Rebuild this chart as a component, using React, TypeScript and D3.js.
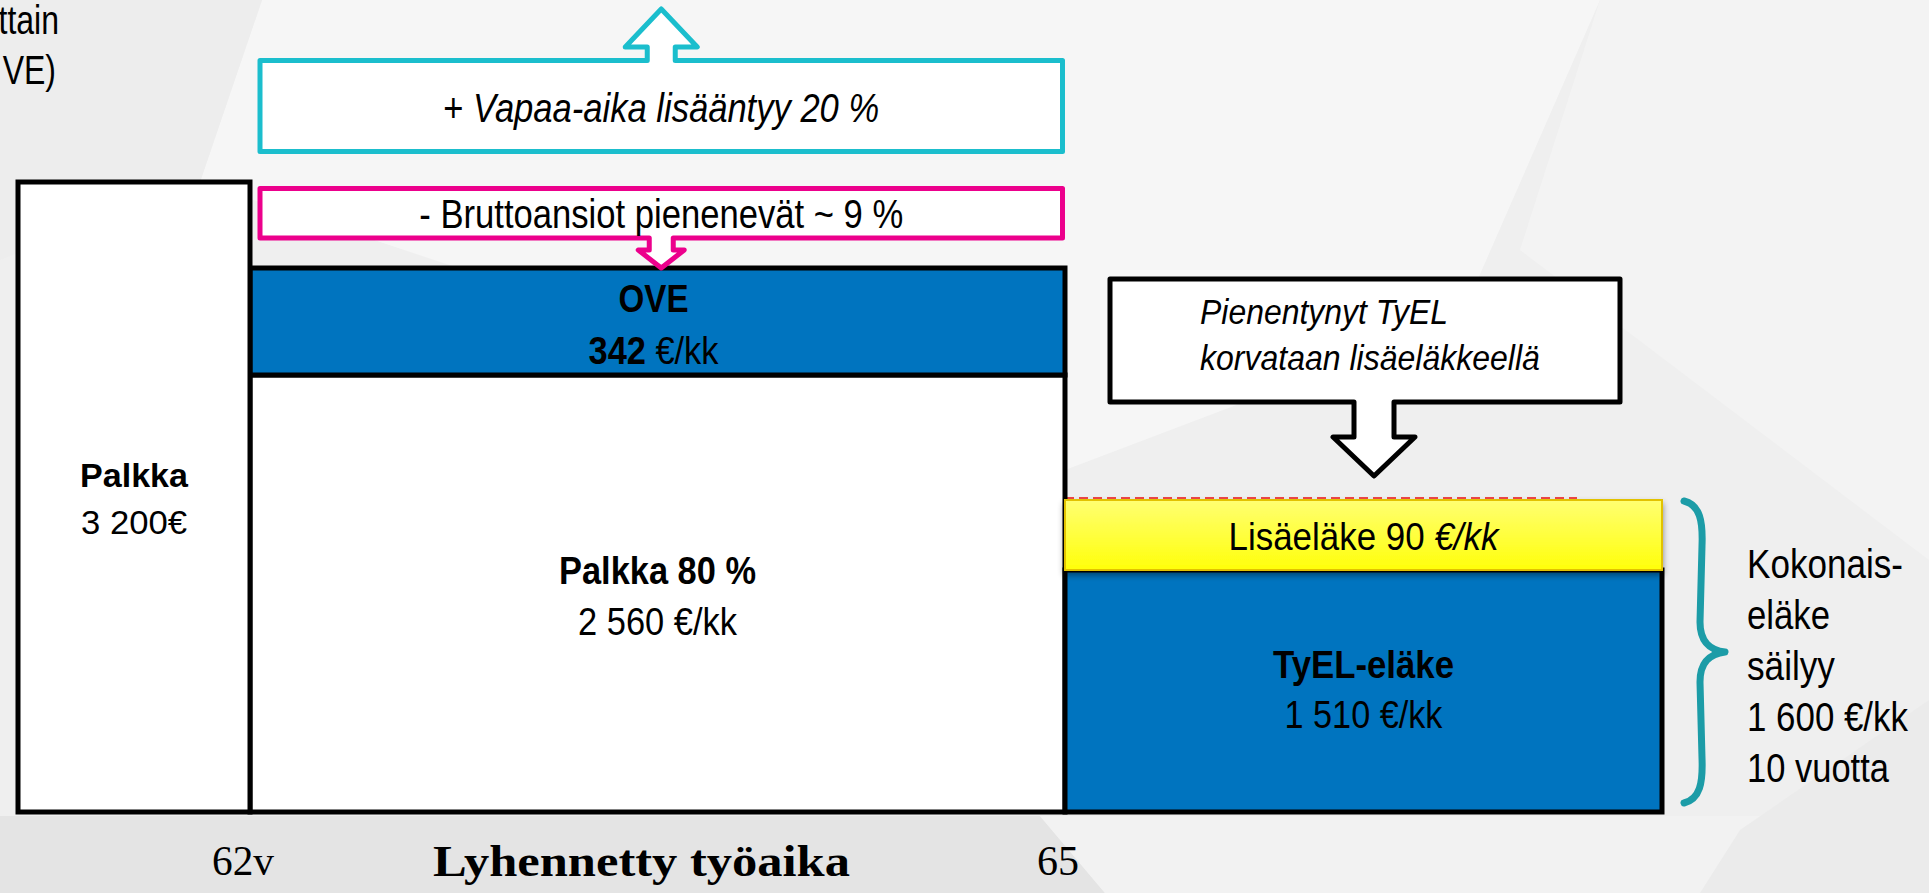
import React, { useEffect, useRef } from "react";
import * as d3 from "d3";

const W = 1929;
const H = 893;

// horizontal axis: age stages (before 62 | shortened work 62–65 | pension from 65)
const ageBreaks = [61, 62, 65, 68];
const ageTicks = [
  { age: 62, label: "62v" },
  { age: 65, label: "65" },
];
const axisTitle = "Lyhennetty työaika";

// monthly amounts €/kk
const salaryFull = 3200;
const salaryPart = 2560;
const ovePension = 342;
const tyelPension = 1510;
const extraPension = 90;
const totalPension = tyelPension + extraPension;

// breakpoints of the (schematic) vertical scale
const levels = [0, tyelPension, totalPension, salaryPart, salaryPart + ovePension, salaryFull];

const blocks = [
  { key: "palkka80", from: 62, to: 65, low: 0, high: salaryPart },
  { key: "ove", from: 62, to: 65, low: salaryPart, high: salaryPart + ovePension },
  { key: "tyel", from: 65, to: 68, low: 0, high: tyelPension },
  { key: "palkka", from: 61, to: 62, low: 0, high: salaryFull },
  { key: "lisa", from: 65, to: 68, low: tyelPension, high: totalPension },
];

// texts inside the blocks: [text, bold?, italic?] parts per line
const blockLabels = {
  palkka: [[["Palkka", true, false]], [["3 200€", false, false]]],
  palkka80: [[["Palkka 80 %", true, false]], [["2 560 €/kk", false, false]]],
  ove: [[["OVE", true, false]], [["342", true, false], [" €/kk", false, false]]],
  tyel: [[["TyEL-eläke", true, false]], [["1 510 €/kk", false, false]]],
  lisa: [[["Lisäeläke 90 ", false, false], ["€/kk", false, true]]],
};

const upText = [["+ ", false, false], ["Vapaa-aika lisääntyy 20 %", false, true]];
const downText = [["- Bruttoansiot pienenevät ~ 9 %", false, false]];
const tyelNote = ["Pienentynyt TyEL", "korvataan lisäeläkkeellä"];
const braceLines = ["Kokonais-", "eläke", "säilyy", "1 600 €/kk", "10 vuotta"];
const cornerLines = ["ttain", "VE)"];

// styles
const fills = { palkka: "#ffffff", palkka80: "#ffffff", ove: "#0074bf", tyel: "#0074bf", lisa: "url(#yellowGrad)" };
const SANS = "'Liberation Sans',Arial,sans-serif";
const SERIF = "'Liberation Serif','DejaVu Serif',serif";
// per-label layout: baseline offsets from block centre, font size, text widths
const labelLayout = {
  palkka: { dy: [-10, 37], size: 34, widths: [108, 106] },
  palkka80: { dy: [-10, 41], size: 39, widths: [197, 159] },
  ove: { dy: [-10, 42], size: 39, widths: [70, 130] },
  tyel: { dy: [-13, 37], size: 39, widths: [181, 158] },
  lisa: { dy: [15], size: 39, widths: [270] },
};

const App = () => {
  const ref = useRef(null);

  useEffect(() => {
    drawChart();
  }, []);

  const drawChart = () => {
    const svg = d3.select(ref.current);
    svg.selectAll("*").remove();

    const x = d3.scaleLinear().domain(ageBreaks).range([18, 250, 1065, 1662]);
    const y = d3.scaleLinear().domain(levels).range([812, 570, 500, 375, 268, 182]);

    const defs = svg.append("defs");
    const grad = defs
      .append("linearGradient")
      .attr("id", "yellowGrad")
      .attr("x1", 0)
      .attr("y1", 0)
      .attr("x2", 0)
      .attr("y2", 1);
    grad.append("stop").attr("offset", "0%").attr("stop-color", "#ffff72");
    grad.append("stop").attr("offset", "100%").attr("stop-color", "#ffff0a");
    defs
      .append("filter")
      .attr("id", "shadow")
      .attr("x", "-5%")
      .attr("y", "-20%")
      .attr("width", "110%")
      .attr("height", "160%")
      .append("feDropShadow")
      .attr("dx", 0)
      .attr("dy", 4)
      .attr("stdDeviation", 3)
      .attr("flood-color", "#000")
      .attr("flood-opacity", 0.45);

    // background facets
    svg.append("rect").attr("width", W).attr("height", H).attr("fill", "#efefef");
    const facets = [
      { pts: [[262, 0], [1600, 0], [1460, 320], [1065, 470], [200, 182]], fill: "#f6f6f6" },
      { pts: [[1600, 0], [1929, 0], [1929, 560], [1520, 250]], fill: "#f3f3f3" },
      { pts: [[0, 0], [262, 0], [200, 182], [0, 260]], fill: "#ededed" },
      { pts: [[0, 816], [1040, 816], [1105, 893], [0, 893]], fill: "#e4e4e4" },
      { pts: [[1040, 816], [1929, 816], [1929, 893], [1105, 893]], fill: "#f2f2f2" },
      { pts: [[1740, 830], [1929, 700], [1929, 893], [1700, 893]], fill: "#ebebeb" },
    ];
    svg
      .append("g")
      .selectAll("polygon")
      .data(facets)
      .enter()
      .append("polygon")
      .attr("points", (d) => d.pts.map((p) => p.join(",")).join(" "))
      .attr("fill", (d) => d.fill);

    const g = svg.append("g");

    // red dashed reference line above the supplementary pension
    g.append("line")
      .attr("x1", x(65))
      .attr("x2", x(65) + 512)
      .attr("y1", y(totalPension) - 2)
      .attr("y2", y(totalPension) - 2)
      .attr("stroke", "#f04848")
      .attr("stroke-width", 2)
      .attr("stroke-dasharray", "9,5");

    // blocks
    g.selectAll(".block")
      .data(blocks)
      .enter()
      .append("rect")
      .attr("class", "block")
      .attr("x", (d) => x(d.from))
      .attr("y", (d) => y(d.high))
      .attr("width", (d) => x(d.to) - x(d.from))
      .attr("height", (d) => y(d.low) - y(d.high))
      .attr("fill", (d) => fills[d.key])
      .attr("stroke", (d) => (d.key === "lisa" ? "#e2c200" : "#000"))
      .attr("stroke-width", (d) => (d.key === "lisa" ? 2 : 5))
      .attr("filter", (d) => (d.key === "lisa" ? "url(#shadow)" : null));

    // text squeezed horizontally to the reference width (narrow face)
    const addText = (parent, parts, opts) => {
      const t = parent
        .append("text")
        .attr("text-anchor", opts.anchor || "middle")
        .attr("font-family", opts.family || SANS)
        .attr("font-size", opts.size)
        .attr("fill", "#000");
      parts.forEach(([txt, bold, italic]) => {
        t.append("tspan")
          .attr("font-weight", bold ? "bold" : "normal")
          .attr("font-style", italic ? "italic" : "normal")
          .text(txt);
      });
      let sx = opts.squeeze || 1;
      if (opts.width) {
        const natural = t.node().getComputedTextLength();
        if (natural > 0) sx = opts.width / natural;
      }
      t.attr("transform", `translate(${opts.x},${opts.y}) scale(${sx},1)`);
      return t;
    };

    // block labels
    blocks.forEach((b) => {
      const lay = labelLayout[b.key];
      const cx = (x(b.from) + x(b.to)) / 2;
      const cy = (y(b.low) + y(b.high)) / 2;
      blockLabels[b.key].forEach((line, i) => {
        addText(g, line, {
          x: b.key === "ove" ? cx - 4 : cx,
          y: cy + lay.dy[i],
          size: lay.size,
          width: lay.widths[i],
        });
      });
    });

    // callout boxes with arrows
    const callout = (box, arrow, dir) => {
      const { l, r, t, b } = box;
      const { cx, shaft, head, headY, tip } = arrow;
      if (dir === "up") {
        return `M${l},${b}V${t}H${cx - shaft}V${headY}H${cx - head}L${cx},${tip}L${cx + head},${headY}H${cx + shaft}V${t}H${r}V${b}Z`;
      }
      return `M${l},${t}H${r}V${b}H${cx + shaft}V${headY}H${cx + head}L${cx},${tip}L${cx - head},${headY}H${cx - shaft}V${b}H${l}Z`;
    };

    const topL = x(62) + 10;
    const topR = x(65) - 2.5;
    const topCx = (topL + topR) / 2;

    g.append("path")
      .attr("d", callout({ l: topL, r: topR, t: 60.5, b: 151.5 }, { cx: topCx, shaft: 14, head: 36, headY: 47, tip: 9 }, "up"))
      .attr("fill", "#fff")
      .attr("stroke", "#1bbecd")
      .attr("stroke-width", 5)
      .attr("stroke-linejoin", "round");
    addText(g, upText, { x: topCx, y: 122, size: 40, width: 436 });

    g.append("path")
      .attr("d", callout({ l: topL, r: topR, t: 188.5, b: 238 }, { cx: topCx, shaft: 12, head: 23, headY: 250, tip: y(salaryPart + ovePension) }, "down"))
      .attr("fill", "#fff")
      .attr("stroke", "#ec008c")
      .attr("stroke-width", 5)
      .attr("stroke-linejoin", "round");
    addText(g, downText, { x: topCx, y: 228, size: 40, width: 484 });

    const noteL = x(65) + 45;
    const noteR = x(68) - 42;
    g.append("path")
      .attr("d", callout({ l: noteL, r: noteR, t: 279, b: 402 }, { cx: noteL + 264, shaft: 20, head: 41, headY: 437, tip: 476 }, "down"))
      .attr("fill", "#fff")
      .attr("stroke", "#000")
      .attr("stroke-width", 5)
      .attr("stroke-linejoin", "round");
    const noteWidths = [248, 340];
    tyelNote.forEach((line, i) => {
      addText(g, [[line, false, true]], {
        x: noteL + 90,
        y: 324 + i * 46,
        anchor: "start",
        size: 35,
        width: noteWidths[i],
      });
    });

    // brace and total pension text
    const bTop = y(totalPension) + 1;
    const bBot = y(0) - 9;
    const bMid = (bTop + bBot) / 2;
    const bx = x(68) + 22;
    g.append("path")
      .attr(
        "d",
        `M${bx},${bTop}C${bx + 16},${bTop + 4} ${bx + 19},${bTop + 20} ${bx + 18},${bTop + 45}` +
          `L${bx + 16},${bMid - 30}C${bx + 16},${bMid - 10} ${bx + 26},${bMid - 2} ${bx + 41},${bMid}` +
          `C${bx + 26},${bMid + 2} ${bx + 16},${bMid + 10} ${bx + 16},${bMid + 30}` +
          `L${bx + 18},${bBot - 45}C${bx + 19},${bBot - 20} ${bx + 16},${bBot - 4} ${bx},${bBot}`
      )
      .attr("fill", "none")
      .attr("stroke", "#1c9ca7")
      .attr("stroke-width", 7)
      .attr("stroke-linecap", "round")
      .attr("stroke-linejoin", "round");

    const braceWidths = [156, 83, 88, 161, 142];
    braceLines.forEach((line, i) => {
      addText(g, [[line, false, false]], {
        x: bx + 63,
        y: bMid - 74 + i * 51,
        anchor: "start",
        size: 40,
        width: braceWidths[i],
      });
    });

    // partially visible text at the top-left corner
    const cornerEnds = [59, 56];
    cornerLines.forEach((line, i) => {
      addText(g, [[line, false, false]], {
        x: cornerEnds[i],
        y: 34 + i * 50,
        anchor: "end",
        size: 40,
        squeeze: 0.8,
      });
    });

    // axis labels
    ageTicks.forEach((t, i) => {
      addText(g, [[t.label, false, false]], {
        x: x(t.age) - 7,
        y: 875,
        family: SERIF,
        size: 42,
        width: [62, 42][i],
      });
    });
    addText(g, [[axisTitle, true, false]], {
      x: (x(62) + x(65)) / 2 - 16,
      y: 876,
      family: SERIF,
      size: 45,
      width: 417,
    });
  };

  return (
    <div style={{ position: "absolute", left: 0, top: 0 }}>
      <svg ref={ref} width={W} height={H} style={{ display: "block" }} />
    </div>
  );
};

export default App;
